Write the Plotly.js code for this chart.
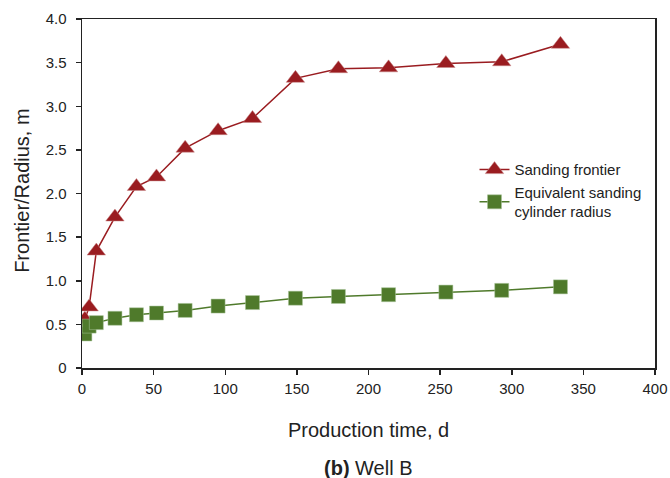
<!DOCTYPE html>
<html>
<head>
<meta charset="utf-8">
<script src="https://cdn.plot.ly/plotly-3.0.1.min.js"></script>
<style>html,body{margin:0;padding:0;background:#fff;}#chart{width:670px;height:478px;}</style>
</head>
<body>
<div id="chart"></div>
<script>
const days = [2, 5, 10, 23, 38, 52, 72, 95, 119, 149, 179, 214, 254, 293, 334];
const sandingFrontier = [0.56, 0.70, 1.34, 1.73, 2.08, 2.19, 2.52, 2.72, 2.86, 3.32, 3.43, 3.44, 3.49, 3.51, 3.71];
const cylinderRadius = [0.39, 0.48, 0.52, 0.57, 0.61, 0.63, 0.66, 0.71, 0.75, 0.80, 0.82, 0.84, 0.87, 0.89, 0.93];
const xTicks = [0, 50, 100, 150, 200, 250, 300, 350, 400];
const yTicks = [0, 0.5, 1.0, 1.5, 2.0, 2.5, 3.0, 3.5, 4.0];
const yTickText = ['0', '0.5', '1.0', '1.5', '2.0', '2.5', '3.0', '3.5', '4.0'];
const seriesNames = ['Sanding frontier', 'Equivalent sanding<br>cylinder radius'];

const traces = [
  {
    x: days, y: sandingFrontier, name: seriesNames[0], type: 'scatter', mode: 'lines+markers',
    line: {color: '#9a1c20', width: 1.5},
    marker: {symbol: 'triangle-up', size: 16, color: '#9a1c20', line: {color: '#c98a8a', width: 0.5}}
  },
  {
    x: days, y: cylinderRadius, name: seriesNames[1], type: 'scatter', mode: 'lines+markers',
    line: {color: '#4f7a2b', width: 1.5},
    marker: {symbol: 'square', size: 14, color: '#4f7a2b', line: {color: '#a9c49a', width: 0.5}}
  }
];

const layout = {
  width: 670, height: 478,
  margin: {l: 82, r: 15, t: 19, b: 110},
  paper_bgcolor: '#fff', plot_bgcolor: '#fff',
  font: {family: 'Liberation Sans, Arial, sans-serif', color: '#222'},
  showlegend: true,
  legend: {
    x: 0.685, y: 0.615, xanchor: 'left', yanchor: 'top',
    font: {size: 15, color: '#222'}, bgcolor: 'rgba(0,0,0,0)',
    tracegroupgap: 4
  },
  xaxis: {
    range: [0, 400], tickvals: xTicks, ticktext: xTicks.map(String),
    showgrid: false, zeroline: false, showline: true, linecolor: '#222', linewidth: 1.5,
    mirror: true, ticks: 'outside', ticklen: 5, tickcolor: '#222', tickwidth: 1.5,
    tickfont: {size: 15, color: '#222'}, ticklabelstandoff: 1
  },
  yaxis: {
    range: [0, 4], tickvals: yTicks, ticktext: yTickText,
    showgrid: false, zeroline: false, showline: true, linecolor: '#222', linewidth: 1.5,
    mirror: true, ticks: 'outside', ticklen: 5, tickcolor: '#222', tickwidth: 1.5,
    tickfont: {size: 15, color: '#222'}, ticklabelstandoff: 6
  },
  annotations: [
    {text: 'Production time, d', xref: 'paper', yref: 'paper', x: 0.5, y: -0.178,
     xanchor: 'center', yanchor: 'middle', showarrow: false, font: {size: 20, color: '#222'}},
    {text: '<b>(b)</b> Well B', xref: 'paper', yref: 'paper', x: 0.5, y: -0.287,
     xanchor: 'center', yanchor: 'middle', showarrow: false, font: {size: 20, color: '#222'}},
    {text: 'Frontier/Radius, m', xref: 'paper', yref: 'paper', x: -0.105, y: 0.51,
     xanchor: 'center', yanchor: 'middle', textangle: -90, showarrow: false, font: {size: 20, color: '#222'}}
  ]
};

Plotly.newPlot('chart', traces, layout, {displayModeBar: false, staticPlot: true});
</script>
</body>
</html>
